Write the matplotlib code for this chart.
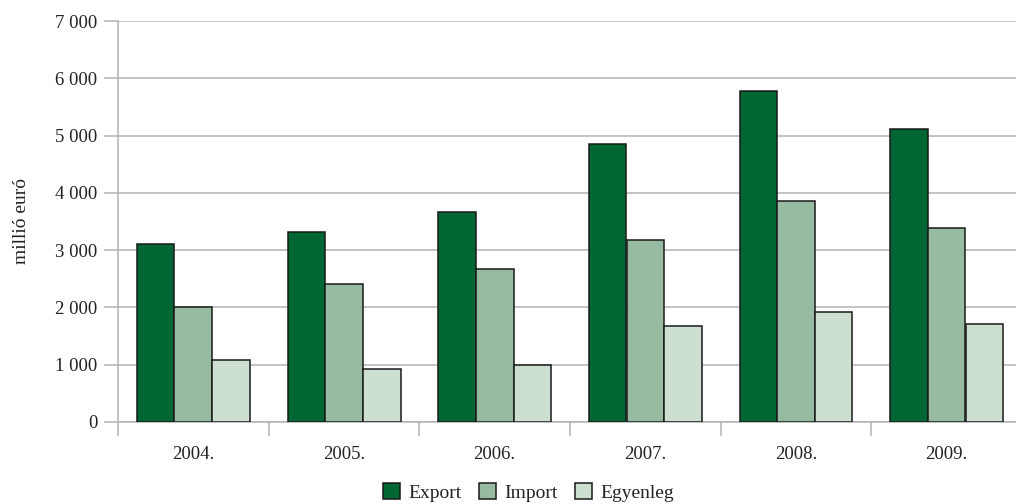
import matplotlib.pyplot as plt
from matplotlib.ticker import FuncFormatter, FixedLocator
import numpy as np

plt.rcParams['font.family'] = ['Liberation Serif', 'DejaVu Serif']

years = ["2004.", "2005.", "2006.", "2007.", "2008.", "2009."]
export = [3100, 3320, 3665, 4860, 5770, 5110]
imports = [2000, 2405, 2670, 3180, 3855, 3390]
egyenleg = [1090, 925, 995, 1680, 1925, 1715]

series = [("Export", export, "#006633"),
          ("Import", imports, "#96bba0"),
          ("Egyenleg", egyenleg, "#cddfd0")]

fig = plt.figure(figsize=(10.16, 5.04), dpi=100)
ax = fig.add_axes([118 / 1016, 82 / 504, 904 / 1016, 401 / 504])

x = np.arange(len(years))
w = 0.25
for i, (name, vals, col) in enumerate(series):
    ax.bar(x + (i - 1) * w, vals, w, color=col, edgecolor="#1a1a1a",
           linewidth=1.1, label=name, zorder=3)

ax.set_xlim(-0.5, len(years) - 0.5)
ax.set_ylim(0, 7000)
ax.set_yticks(range(0, 7001, 1000))
ax.yaxis.set_major_formatter(FuncFormatter(lambda v, p: f"{int(v):,}".replace(",", " ")))
ax.grid(axis="y", color="#b3b3b3", linewidth=1.1, zorder=0)

ax.set_xticks(x)
ax.set_xticklabels(years)
ax.tick_params(axis="x", which="major", length=0, pad=17, labelsize=13.5, colors="#222222")
ax.xaxis.set_minor_locator(FixedLocator(np.arange(-0.5, len(years), 1)))
ax.tick_params(axis="x", which="minor", length=10, color="#b3b3b3", width=1.1)
ax.tick_params(axis="y", length=10, color="#b3b3b3", width=1.1, labelsize=13.5,
               labelcolor="#222222", pad=5)

for s in ["top", "right"]:
    ax.spines[s].set_visible(False)
for s in ["left", "bottom"]:
    ax.spines[s].set_color("#b3b3b3")
    ax.spines[s].set_linewidth(1.1)

ax.set_ylabel("millió euró", fontsize=14, color="#222222", labelpad=18)

fig.legend(loc="lower center", bbox_to_anchor=(0.52, -0.03), ncol=3, frameon=False,
           fontsize=14, handlelength=0.9, handleheight=0.9, handletextpad=0.4,
           columnspacing=0.9, labelcolor="#222222")

fig.savefig("out.png", dpi=100)
